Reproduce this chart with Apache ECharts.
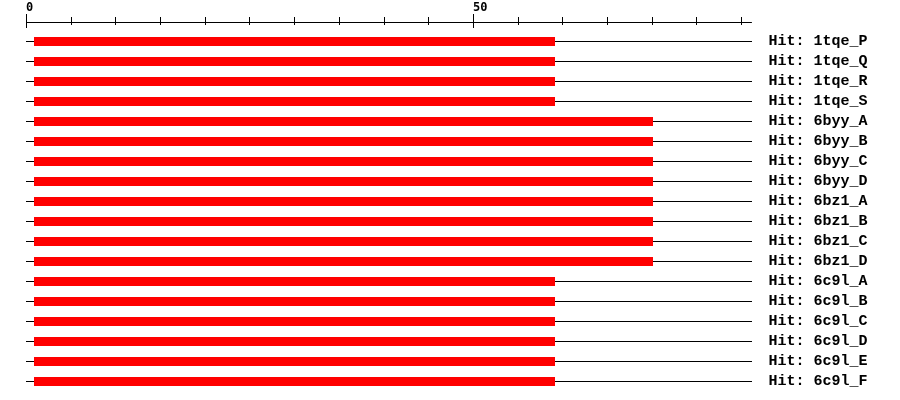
<!DOCTYPE html>
<html><head><meta charset="utf-8">
<script src="https://cdn.jsdelivr.net/npm/echarts@6/dist/echarts.min.js"></script>
<style>html,body{margin:0;padding:0;background:#fff}#c{width:900px;height:400px}</style>
</head><body><div id="c"></div>
<script>
const hitNames = ['Hit: 1tqe_P','Hit: 1tqe_Q','Hit: 1tqe_R','Hit: 1tqe_S','Hit: 6byy_A','Hit: 6byy_B','Hit: 6byy_C','Hit: 6byy_D','Hit: 6bz1_A','Hit: 6bz1_B','Hit: 6bz1_C','Hit: 6bz1_D','Hit: 6c9l_A','Hit: 6c9l_B','Hit: 6c9l_C','Hit: 6c9l_D','Hit: 6c9l_E','Hit: 6c9l_F'];
const hitStart = [0.8,0.8,0.8,0.8,0.8,0.8,0.8,0.8,0.8,0.8,0.8,0.8,0.8,0.8,0.8,0.8,0.8,0.8];
const hitEnd = [59.1,59.1,59.1,59.1,70.1,70.1,70.1,70.1,70.1,70.1,70.1,70.1,59.1,59.1,59.1,59.1,59.1,59.1];
const queryLength = 81.1;
const tickValues = [0,5,10,15,20,25,30,35,40,45,50,55,60,65,70,75,80];
const majorTicks = [0,50];

const chart = echarts.init(document.getElementById('c'), null, {renderer:'canvas'});
const crisp = v => Math.round(v - 0.5) + 0.5;

chart.setOption({
  animation:false,
  grid:{left:26.5, right:148.5, top:31.5, height:360},
  xAxis:{type:'value', min:0, max:queryLength, position:'top', offset:9,
    axisLine:{show:true, lineStyle:{color:'#000', width:1}},
    axisTick:{show:false}, axisLabel:{show:false}, splitLine:{show:false}},
  yAxis:{type:'category', data:hitNames, inverse:true, position:'right',
    axisLine:{show:false}, axisTick:{show:false}, splitLine:{show:false},
    axisLabel:{margin:17, color:'#000', fontFamily:'Liberation Mono', fontSize:15, fontWeight:'bold'}},
  series:[
    {type:'custom', clip:false, data:hitNames.map((n,i)=>[i, 0, queryLength, hitStart[i], hitEnd[i]]),
      encode:{x:[1,2], y:0},
      renderItem:(params, api)=>{
        const i = api.value(0);
        const p0 = api.coord([api.value(1), i]);
        const p1 = api.coord([api.value(2), i]);
        const b0 = api.coord([api.value(3), i]);
        const b1 = api.coord([api.value(4), i]);
        const y = crisp(p0[1]);
        return {type:'group', children:[
          {type:'line', shape:{x1:Math.floor(p0[0]), y1:y, x2:Math.ceil(p1[0]), y2:y}, style:{stroke:'#000', lineWidth:1}},
          {type:'rect', shape:{x:Math.round(b0[0]), y:Math.round(p0[1]-4.5), width:Math.round(b1[0])-Math.round(b0[0]), height:9}, style:{fill:'#ff0000'}}
        ]};
      }},
    {type:'custom', clip:false, data:tickValues.map(v=>[v]),
      encode:{x:0},
      renderItem:(params, api)=>{
        const v = api.value(0);
        const x = crisp(api.coord([v, 0])[0]);
        const major = majorTicks.indexOf(v) >= 0;
        const children = [{type:'line', shape:{x1:x, y1:major?14:17, x2:x, y2:major?28:25}, style:{stroke:'#000', lineWidth:1}}];
        if (major) children.push({type:'text', x:x-0.5, y:2, style:{text:String(v), fill:'#000', font:'bold 12px "DejaVu Sans Mono"', textAlign:'left', textVerticalAlign:'top'}});
        return {type:'group', children};
      }}
  ]
});
</script></body></html>
